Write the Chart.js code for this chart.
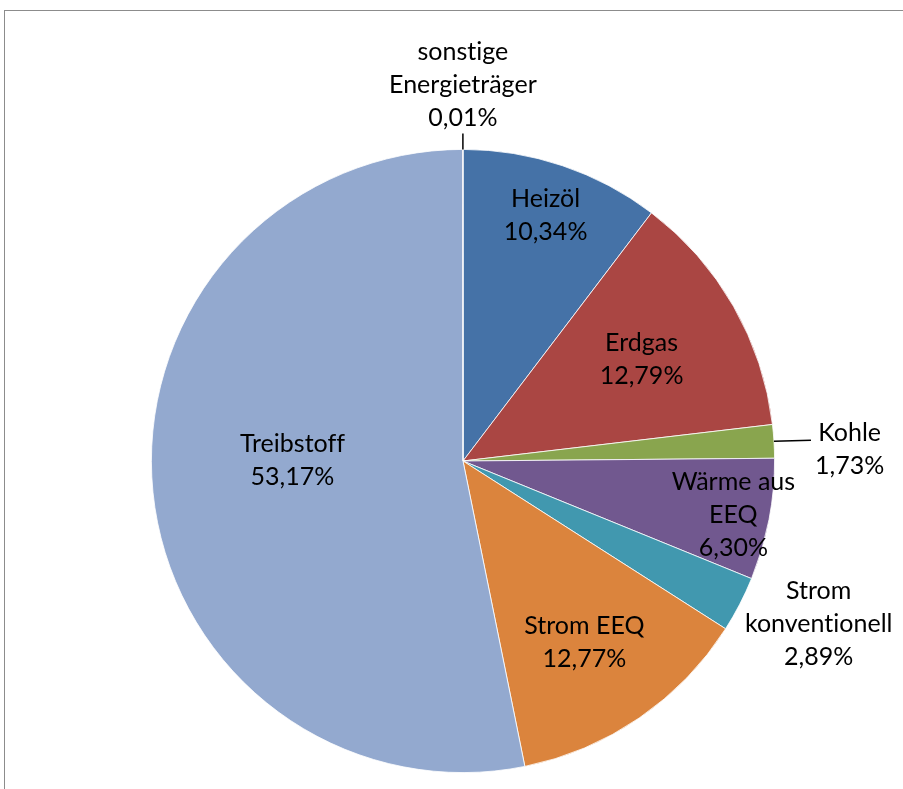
<!DOCTYPE html>
<html>
<head>
<meta charset="utf-8">
<script src="https://cdn.jsdelivr.net/npm/chart.js@4"></script>
<style>
  html, body { margin: 0; padding: 0; background: #fff; }
  #wrap { position: relative; width: 903px; height: 789px; overflow: hidden; }
  #frame { position: absolute; left: 4px; top: 10px; width: 920px; height: 800px;
           border-left: 1px solid #8c8c8c; border-top: 1px solid #8c8c8c; }
  #chart { position: absolute; left: 0; top: 0; }
</style>
</head>
<body>
<div id="wrap">
  <div id="frame"></div>
  <canvas id="chart" width="903" height="789"></canvas>
</div>
<script>
// Anteile am Energieverbrauch (Prozent), im Uhrzeigersinn ab 12 Uhr
const categories = ['Heizöl', 'Erdgas', 'Kohle', 'Wärme aus EEQ', 'Strom konventionell', 'Strom EEQ', 'Treibstoff', 'sonstige Energieträger'];
const shares = [10.34, 12.79, 1.73, 6.30, 2.89, 12.77, 53.17, 0.01];
const labelLines = [
  ['Heizöl'],
  ['Erdgas'],
  ['Kohle'],
  ['Wärme aus', 'EEQ'],
  ['Strom', 'konventionell'],
  ['Strom EEQ'],
  ['Treibstoff'],
  ['sonstige', 'Energieträger']
];
const colors = ['#4572A7', '#AA4643', '#89A54E', '#71588F', '#4198AF', '#DB843D', '#93A9CF', '#D19392'];

// where each label sits: fraction of the radius along the slice's middle, plus a nudge
// side: leader line from the rim, text to the right of its end
// up: short leader line straight up from the rim, text above it
const labelPlacement = [
  { r: 0.83, dx: 0, dy: 0 },
  { r: 0.66, dx: 0, dy: 0 },
  { r: 1.0, dx: 37, dy: -1, leader: 'side' },
  { r: 0.89, dx: -2, dy: 2 },
  { r: 1.0, dx: 79, dy: 20 },
  { r: 0.70, dx: -2, dy: 2 },
  { r: 0.55, dx: 0, dy: -18 },
  { r: 1.0, dx: 0, dy: -64, leader: 'up' }
];

const fmt = v => v.toFixed(2).replace('.', ',') + '%';

const sliceLabels = {
  id: 'sliceLabels',
  afterDatasetsDraw(chart) {
    const ctx = chart.ctx;
    const meta = chart.getDatasetMeta(0);
    const lineH = 33;
    ctx.save();
    ctx.font = '25px Lato';
    // tiny spacing keeps "ti" from turning into a ligature
    ctx.letterSpacing = '0.01px';
    ctx.fillStyle = '#000';
    ctx.strokeStyle = '#000';
    ctx.lineWidth = 1.5;
    ctx.textBaseline = 'middle';
    meta.data.forEach((arc, i) => {
      const p = arc.getProps(['x', 'y', 'startAngle', 'endAngle', 'outerRadius'], true);
      const mid = (p.startAngle + p.endAngle) / 2;
      const pl = labelPlacement[i];
      const ex = p.x + Math.cos(mid) * p.outerRadius;
      const ey = p.y + Math.sin(mid) * p.outerRadius;
      const cx = p.x + Math.cos(mid) * p.outerRadius * pl.r + pl.dx;
      const cy = p.y + Math.sin(mid) * p.outerRadius * pl.r + pl.dy;
      const lines = labelLines[i].concat([fmt(shares[i])]);
      ctx.textAlign = 'center';

      if (pl.leader === 'side') {
        ctx.beginPath();
        ctx.moveTo(ex, ey);
        ctx.lineTo(cx, cy);
        ctx.stroke();
        const w = Math.max(...lines.map(l => ctx.measureText(l).width));
        const tx = cx + 4 + w / 2;
        lines.forEach((l, k) => ctx.fillText(l, tx, cy - 7 + k * lineH));
        return;
      }
      if (pl.leader === 'up') {
        ctx.beginPath();
        ctx.moveTo(ex, ey);
        ctx.lineTo(ex, ey - 16);
        ctx.stroke();
      }
      const top = cy - (lines.length - 1) * lineH / 2;
      lines.forEach((l, k) => ctx.fillText(l, cx, top + k * lineH));
    });
    ctx.restore();
  }
};

new Chart(document.getElementById('chart'), {
  type: 'pie',
  data: {
    labels: categories,
    datasets: [{
      data: shares,
      backgroundColor: colors,
      borderColor: '#ffffff',
      borderWidth: 0.8
    }]
  },
  options: {
    responsive: false,
    animation: false,
    layout: { padding: { left: 150, right: 127, top: 149, bottom: 16 } },
    plugins: {
      legend: { display: false },
      tooltip: { enabled: false }
    }
  },
  plugins: [sliceLabels]
});
</script>
</body>
</html>
